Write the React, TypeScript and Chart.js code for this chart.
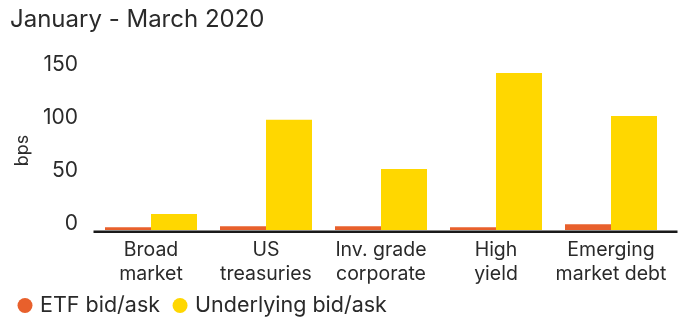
import React, { useEffect, useRef } from "react";
import { Chart, registerables } from "chart.js";

Chart.register(...registerables);

const subtitle = "January - March 2020";
const categories: string[][] = [
  ["Broad", "market"],
  ["US", "treasuries"],
  ["Inv. grade", "corporate"],
  ["High", "yield"],
  ["Emerging", "market debt"],
];
const etfBidAsk = [2.5, 3.5, 3.5, 2.5, 5.5];
const underlyingBidAsk = [15, 104, 57.5, 148, 107.5];
const yTickValues = [0, 50, 100, 150];
const seriesNames = ["ETF bid/ask", "Underlying bid/ask"];
const seriesColors = ["#E8602C", "#FFD700"];

const FONT = "Inter";
const TEXT = "#2a2a2a";

const axisLinePlugin = {
  id: "axisLine",
  afterDatasetsDraw(chart: any) {
    const { ctx, chartArea } = chart;
    ctx.save();
    ctx.fillStyle = "#8a8a8a";
    ctx.fillRect(chartArea.left, chartArea.bottom, chartArea.right + 9 - chartArea.left, 1);
    ctx.fillStyle = "#1a1a1a";
    ctx.fillRect(chartArea.left, chartArea.bottom + 1, chartArea.right + 9 - chartArea.left, 2);
    ctx.restore();
  },
};

const legendPlugin = {
  id: "customLegend",
  afterDraw(chart: any) {
    const { ctx } = chart;
    const y = 305.5;
    let cx = 25;
    ctx.save();
    ctx.font = `21.5px ${FONT}`;
    ctx.textBaseline = "middle";
    ctx.textAlign = "left";
    chart.data.datasets.forEach((ds: any) => {
      ctx.fillStyle = ds.backgroundColor;
      ctx.beginPath();
      ctx.arc(cx, y, 7.5, 0, Math.PI * 2);
      ctx.fill();
      ctx.fillStyle = TEXT;
      const tx = cx + 15;
      ctx.fillText(ds.label, tx, y);
      cx = tx + ctx.measureText(ds.label).width + 20;
    });
    ctx.restore();
  },
};

export default function App() {
  const ref = useRef<HTMLCanvasElement | null>(null);
  useEffect(() => {
    if (!ref.current) return;
    const chart = new Chart(ref.current, {
      type: "bar",
      data: {
        labels: categories,
        datasets: [
          {
            label: seriesNames[0],
            data: etfBidAsk,
            backgroundColor: seriesColors[0],
            barPercentage: 1,
            categoryPercentage: 0.8,
          },
          {
            label: seriesNames[1],
            data: underlyingBidAsk,
            backgroundColor: seriesColors[1],
            barPercentage: 1,
            categoryPercentage: 0.8,
          },
        ],
      },
      options: {
        responsive: false,
        animation: false,
        layout: { padding: { left: 10, right: 12.5, top: 0, bottom: 33 } },
        plugins: {
          legend: { display: false },
          tooltip: { enabled: false },
          title: {
            display: true,
            text: subtitle,
            align: "start",
            color: TEXT,
            font: { family: FONT, size: 24, weight: "normal" },
            padding: { top: 5, bottom: 37.2 },
          },
        },
        scales: {
          x: {
            grid: { display: false, drawTicks: false },
            border: { display: false },
            ticks: {
              color: TEXT,
              font: { family: FONT, size: 19.5, lineHeight: 1.25 },
              padding: 8,
              maxRotation: 0,
              autoSkip: false,
            },
            afterFit(scale: any) {
              scale.height = 55;
            },
          },
          y: {
            min: 0,
            max: 150,
            grid: { display: false, drawTicks: false },
            border: { display: false },
            afterBuildTicks(scale: any) {
              scale.ticks = yTickValues.map((v) => ({ value: v }));
            },
            ticks: {
              color: TEXT,
              font: { family: FONT, size: 21 },
              padding: 15.5,
              labelOffset: -6,
            },
            title: {
              display: true,
              text: "bps",
              color: TEXT,
              font: { family: FONT, size: 18 },
              padding: 2,
            },
            afterFit(scale: any) {
              scale.width = 83.5;
            },
          },
        },
      },
      plugins: [axisLinePlugin, legendPlugin],
    } as any);
    return () => chart.destroy();
  }, []);
  return (
    <div style={{ position: "absolute", left: 0, top: 0, width: 681, height: 318, background: "#fff" }}>
      <canvas ref={ref} width={681} height={318} style={{ display: "block" }} />
    </div>
  );
}
